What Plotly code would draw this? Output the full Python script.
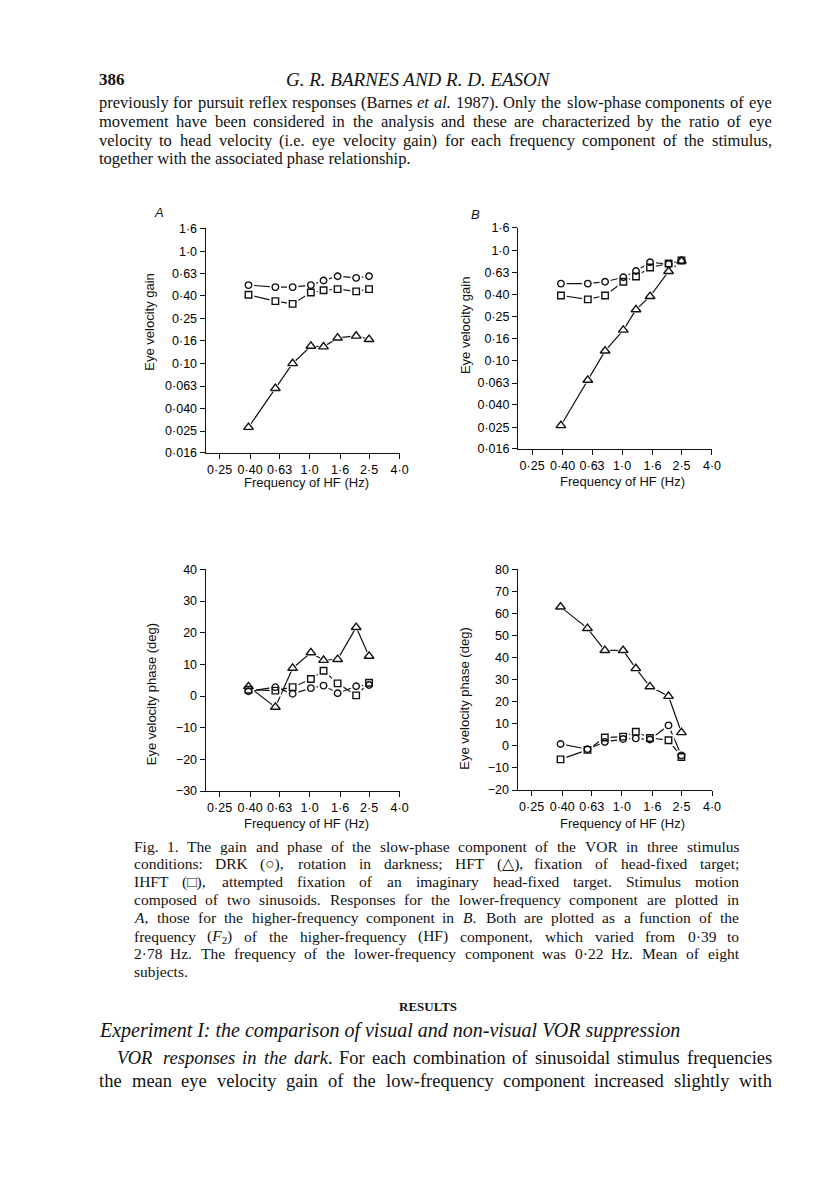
import re
import plotly.graph_objects as go

# page (screenshot) size and the default 8px body margin of the html page
PAGE_W, PAGE_H = 816, 1203
OFF = 8
FW, FH = PAGE_W - 2 * OFF, PAGE_H - 2 * OFF

# ---------------- data ----------------
freq_hz = [0.39, 0.59, 0.77, 1.02, 1.24, 1.54, 2.05, 2.5]

gainA_drk = [0.50, 0.48, 0.48, 0.50, 0.55, 0.60, 0.58, 0.60]
gainA_hft = [0.027, 0.060, 0.100, 0.143, 0.141, 0.169, 0.176, 0.164]
gainA_ihft = [0.41, 0.36, 0.34, 0.43, 0.45, 0.46, 0.44, 0.46]

gainB_drk = [0.50, 0.50, 0.52, 0.57, 0.65, 0.78, 0.75, 0.81]
gainB_hft = [0.026, 0.067, 0.123, 0.190, 0.291, 0.383, 0.645, 0.80]
gainB_ihft = [0.39, 0.36, 0.39, 0.52, 0.58, 0.70, 0.76, 0.81]

phaseA_drk = [1.5, 2.8, 0.7, 2.5, 3.3, 0.9, 3.1, 3.5]
phaseA_hft = [3.0, -3.5, 8.8, 13.7, 11.3, 11.6, 21.7, 12.6]
phaseA_ihft = [2.0, 1.7, 2.8, 5.4, 8.0, 4.0, 0.2, 4.2]

phaseB_drk = [0.9, -1.5, 1.8, 3.1, 3.4, 2.9, 9.3, -4.3]
phaseB_hft = [63.0, 53.3, 43.3, 43.3, 35.1, 26.9, 22.5, 6.1]
phaseB_ihft = [-6.1, -1.8, 3.8, 4.2, 6.4, 3.6, 2.6, -5.0]

x_tick_vals = [0.25, 0.40, 0.63, 1.0, 1.6, 2.5, 4.0]
x_tick_text = ["0·25", "0·40", "0·63", "1·0", "1·6", "2·5", "4·0"]
gain_tick_vals = [0.016, 0.025, 0.040, 0.063, 0.10, 0.16, 0.25, 0.40, 0.63, 1.0, 1.6]
gain_tick_text = ["0·016", "0·025", "0·040", "0·063", "0·10", "0·16", "0·25",
                  "0·40", "0·63", "1·0", "1·6"]
phaseA_tick_vals = [-30, -20, -10, 0, 10, 20, 30, 40]
phaseA_tick_text = ["−30", "−20", "−10", "0", "10", "20", "30", "40"]
phaseB_tick_vals = [-20, -10, 0, 10, 20, 30, 40, 50, 60, 70, 80]
phaseB_tick_text = ["−20", "−10", "0", "10", "20", "30", "40", "50", "60", "70", "80"]

header_number = "386"
header_title = "<i>G. R. BARNES AND R. D. EASON</i>"
body_lines = [
    "previously for pursuit reflex responses (Barnes <i>et</i> <i>al.</i> 1987). Only the slow-phase components of eye",
    "movement have been considered in the analysis and these are characterized by the ratio of eye",
    "velocity to head velocity (i.e. eye velocity gain) for each frequency component of the stimulus,",
    "together with the associated phase relationship.",
]
caption_lines = [
    "Fig. 1. The gain and phase of the slow-phase component of the VOR in three stimulus",
    "conditions: DRK (○), rotation in darkness; HFT (△), fixation of head-fixed target;",
    "IHFT (□), attempted fixation of an imaginary head-fixed target. Stimulus motion",
    "composed of two sinusoids. Responses for the lower-frequency component are plotted in",
    "<i>A</i>, those for the higher-frequency component in <i>B</i>. Both are plotted as a function of the",
    "frequency (<i>F</i><sub>2</sub>) of the higher-frequency (HF) component, which varied from 0·39 to",
    "2·78 Hz. The frequency of the lower-frequency component was 0·22 Hz. Mean of eight",
    "subjects.",
]
results_heading = "<b>RESULTS</b>"
experiment_heading = "<i>Experiment I: the comparison of visual and non-visual VOR suppression</i>"
final_lines = [
    "<i>VOR</i> <i>responses</i> <i>in</i> <i>the</i> <i>dark</i>. For each combination of sinusoidal stimulus frequencies",
    "the mean eye velocity gain of the low-frequency component increased slightly with",
]

# ---------------- helpers ----------------
TW = {' ': 250, '!': 333, '(': 333, ')': 333, ',': 250, '-': 333, '.': 250, ':': 278,
      ';': 278, '·': 250, '○': 700, '△': 700, '□': 700}
for c in '0123456789':
    TW[c] = 500
TW.update(dict(zip('ABCDEFGHIJKLMNOPQRSTUVWXYZ',
                   [722, 667, 667, 722, 611, 556, 722, 722, 333, 389, 722, 611, 889,
                    722, 722, 556, 722, 667, 556, 611, 722, 722, 944, 722, 722, 611])))
TW.update(dict(zip('abcdefghijklmnopqrstuvwxyz',
                   [444, 500, 444, 500, 444, 333, 500, 500, 278, 278, 500, 278, 778,
                    500, 500, 500, 500, 333, 389, 278, 500, 500, 722, 500, 500, 444])))


def text_width(s, size):
    s2 = re.sub(r'<sub>.*?</sub>', '', s)
    sub = re.findall(r'<sub>(.*?)</sub>', s)
    plain = re.sub(r'<[^>]+>', '', s2)
    w = sum(TW.get(c, 500) for c in plain)
    w += sum(TW.get(c, 500) * 0.7 for c in ''.join(sub))
    return w * size / 1000.0


def px_x(p):
    return (p - OFF) / FW


def px_y(p):
    return 1 - (p - OFF) / FH


annotations = []
SERIF = "Liberation Serif"
SANS = "Liberation Sans"
INK = "#111111"


def add_text(text, px, py, size, family=SERIF, xanchor='left', angle=0, color=INK):
    annotations.append(dict(text=text, x=px_x(px), y=px_y(py), xref='paper', yref='paper',
                            xanchor=xanchor, yanchor='middle', showarrow=False,
                            textangle=angle, borderpad=0,
                            font=dict(family=family, size=size, color=color)))


def add_justified(line, x0, x1, py, size):
    words = line.split(' ')
    widths = [text_width(wd, size) for wd in words]
    gap = (x1 - x0 - sum(widths)) / max(len(words) - 1, 1)
    x = x0
    for wd, w in zip(words, widths):
        add_text(wd, x, py, size)
        x += w + gap


# page text
add_text("<b>" + header_number + "</b>", 99, 73, 17)
add_text(header_title, 288, 73, 19)

body_y = [97, 116, 134.5, 153]
for i, (ln, yy) in enumerate(zip(body_lines, body_y)):
    if i < len(body_lines) - 1:
        add_justified(ln, 99, 779, yy, 16.5)
    else:
        add_text(ln, 99, yy, 16.5)

cap_y = [849, 867, 885, 903, 921.5, 940, 958, 976]
for i, (ln, yy) in enumerate(zip(caption_lines, cap_y)):
    if i < len(caption_lines) - 1:
        add_justified(ln, 134, 746, yy, 15.5)
    else:
        add_text(ln, 134, yy, 15.5)

add_text(results_heading, 433, 1011, 13, xanchor='center')
add_text(experiment_heading, 99, 1036, 20)
add_justified(final_lines[0], 117, 779, 1063, 18.5)
add_justified(final_lines[1], 99, 779, 1087, 18.5)

# ---------------- chart axes ----------------
X_RANGE = [-0.695, 0.602]


def dom_x(a, b):
    return [px_x(a), px_x(b)]


def dom_y(top, bottom):
    return [px_y(bottom), px_y(top)]


axis_common = dict(showline=True, linecolor="#111", linewidth=1.4, ticks='outside',
                   ticklen=5, tickwidth=1.4, tickcolor="#111", showgrid=False,
                   zeroline=False, fixedrange=True,
                   tickfont=dict(family=SANS, size=12.5, color="#000"))

layout_axes = {}
panels = [
    ("", (208, 404), (224, 451), 'log', [-1.7959, 0.2041], gain_tick_vals, gain_tick_text),
    ("2", (524, 720), (223.3, 447), 'log', [-1.7959, 0.2041], gain_tick_vals, gain_tick_text),
    ("3", (208, 404), (569, 793.3), 'linear', [-30, 40], phaseA_tick_vals, phaseA_tick_text),
    ("4", (523.5, 720), (569, 792.3), 'linear', [-20, 80], phaseB_tick_vals, phaseB_tick_text),
]
for suf, xd, yd, ytype, yr, tv, tt in panels:
    layout_axes["xaxis" + suf] = dict(axis_common, type='log', range=X_RANGE,
                                      domain=dom_x(*xd), anchor="y" + suf,
                                      tickvals=x_tick_vals, ticktext=x_tick_text)
    layout_axes["yaxis" + suf] = dict(axis_common, type=ytype, range=yr,
                                      domain=dom_y(*yd), anchor="x" + suf,
                                      tickvals=tv, ticktext=tt)

fig = go.Figure()

series_sets = [
    ("", [gainA_drk, gainA_hft, gainA_ihft]),
    ("2", [gainB_drk, gainB_hft, gainB_ihft]),
    ("3", [phaseA_drk, phaseA_hft, phaseA_ihft]),
    ("4", [phaseB_drk, phaseB_hft, phaseB_ihft]),
]
names = ["DRK", "HFT", "IHFT"]
symbols = ["circle", "triangle-up", "square"]
msizes = [6.5, 8.5, 6.5]

for suf, ys in series_sets:
    xa, ya = "x" + suf, "y" + suf
    for nm, yv in zip(names, ys):
        fig.add_trace(go.Scatter(x=freq_hz, y=yv, mode='lines', name=nm, xaxis=xa, yaxis=ya,
                                 line=dict(color="#111", width=1.2), hoverinfo='skip'))
    for nm, yv, sym, ms in zip(names, ys, symbols, msizes):
        fig.add_trace(go.Scatter(x=freq_hz, y=yv, mode='markers', name=nm, xaxis=xa, yaxis=ya,
                                 marker=dict(symbol=sym, size=ms + 5, color='white',
                                             line=dict(width=0)), hoverinfo='skip'))
    for nm, yv, sym, ms in zip(names, ys, symbols, msizes):
        fig.add_trace(go.Scatter(x=freq_hz, y=yv, mode='markers', name=nm, xaxis=xa, yaxis=ya,
                                 marker=dict(symbol=sym + "-open", size=ms, color="#111",
                                             line=dict(width=1.4, color="#111"))))

# axis titles and panel letters
add_text("<i>A</i>", 155, 208, 13, family=SANS)
add_text("<i>B</i>", 475, 210, 13, family=SANS)
add_text("Eye velocity gain", 151, 318, 13, family=SANS, xanchor='center', angle=-90)
add_text("Eye velocity gain", 470, 322, 13, family=SANS, xanchor='center', angle=-90)
add_text("Eye velocity phase (deg)", 154, 695, 13, family=SANS, xanchor='center', angle=-90)
add_text("Eye velocity phase (deg)", 470, 700, 13, family=SANS, xanchor='center', angle=-90)
add_text("Frequency of HF (Hz)", 310, 481, 13, family=SANS, xanchor='center')
add_text("Frequency of HF (Hz)", 629, 480, 13, family=SANS, xanchor='center')
add_text("Frequency of HF (Hz)", 310, 826, 13, family=SANS, xanchor='center')
add_text("Frequency of HF (Hz)", 629, 826, 13, family=SANS, xanchor='center')

fig.update_layout(width=FW, height=FH, margin=dict(l=0, r=0, t=0, b=0),
                  paper_bgcolor='white', plot_bgcolor='white', showlegend=False,
                  annotations=annotations, **layout_axes)

fig.write_html("out.html")
